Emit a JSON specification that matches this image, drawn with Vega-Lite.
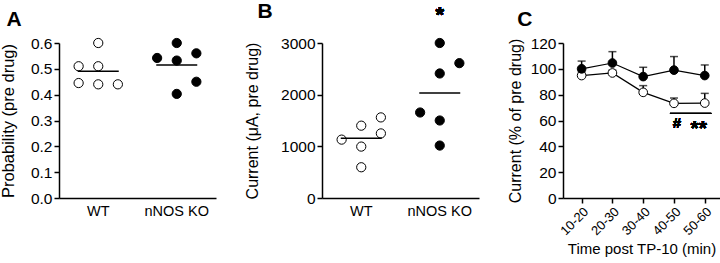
{
  "$schema": "https://vega.github.io/schema/vega-lite/v6.json",
  "padding": {"left": 0, "top": 1, "right": 0, "bottom": 0},
  "spacing": 28,
  "config": {
    "font": "Liberation Sans",
    "view": {"stroke": null},
    "axis": {
      "domainColor": "black", "tickColor": "black", "labelColor": "black", "titleColor": "black",
      "labelFont": "Liberation Sans", "titleFont": "Liberation Sans",
      "labelFontSize": 15, "titleFontSize": 16, "titleFontWeight": "normal",
      "domainWidth": 1.5, "tickWidth": 1.5, "tickSize": 5, "grid": false, "labelPadding": 2, "labelOverlap": false
    },
    "title": {"fontSize": 21, "fontWeight": "bold", "anchor": "start", "frame": "bounds", "color": "black", "font": "Liberation Sans"}
  },
  "hconcat": [
    {
      "width": 157, "height": 155,
      "title": {"text": "A", "offset": 6, "dx": 6},
      "data": {"values": [
        {"group": "WT", "lane": "C", "value": 0.60},
        {"group": "WT", "lane": "L", "value": 0.51},
        {"group": "WT", "lane": "C", "value": 0.51},
        {"group": "WT", "lane": "L", "value": 0.445},
        {"group": "WT", "lane": "C", "value": 0.44},
        {"group": "WT", "lane": "R", "value": 0.44},
        {"group": "nNOS KO", "lane": "C", "value": 0.60},
        {"group": "nNOS KO", "lane": "R", "value": 0.56},
        {"group": "nNOS KO", "lane": "L", "value": 0.542},
        {"group": "nNOS KO", "lane": "C", "value": 0.532},
        {"group": "nNOS KO", "lane": "R", "value": 0.45},
        {"group": "nNOS KO", "lane": "C", "value": 0.403}
      ]},
      "layer": [
        {
          "mark": {"type": "circle", "size": 85, "stroke": "black", "strokeWidth": 1, "opacity": 1},
          "encoding": {
            "x": {"field": "group", "type": "nominal", "sort": ["WT", "nNOS KO"],
                  "scale": {"paddingInner": 0, "paddingOuter": 0},
                  "axis": {"title": null, "labelAngle": 0, "ticks": false, "tickSize": 0, "labelPadding": 6, "labelFontSize": 14.5}},
            "xOffset": {"field": "lane", "type": "nominal", "sort": ["L", "C", "R"], "scale": {"paddingInner": 0, "paddingOuter": 3.4}},
            "y": {"field": "value", "type": "quantitative", "scale": {"domain": [0, 0.6], "nice": false},
                  "axis": {"title": "Probability (pre drug)", "titleFontSize": 16.5, "titlePadding": 14, "tickCount": 7, "format": ".1f", "labelFontSize": 15.5, "labelOverlap": false}},
            "fill": {"field": "group", "type": "nominal", "scale": {"domain": ["WT", "nNOS KO"], "range": ["white", "black"]}, "legend": null}
          }
        },
        {
          "mark": {"type": "tick", "orient": "horizontal", "size": 41, "thickness": 1.5, "color": "black"},
          "encoding": {
            "x": {"field": "group", "type": "nominal", "sort": ["WT", "nNOS KO"]},
            "y": {"aggregate": "mean", "field": "value", "type": "quantitative"}
          }
        }
      ]
    },
    {
      "width": 157, "height": 155,
      "title": {"text": "B", "offset": -18, "dx": 13},
      "data": {"values": [
        {"group": "WT", "lane": "R", "value": 1560},
        {"group": "WT", "lane": "C", "value": 1400},
        {"group": "WT", "lane": "R", "value": 1250},
        {"group": "WT", "lane": "L", "value": 1130},
        {"group": "WT", "lane": "C", "value": 995},
        {"group": "WT", "lane": "C", "value": 595},
        {"group": "nNOS KO", "lane": "C", "value": 3000},
        {"group": "nNOS KO", "lane": "R", "value": 2610},
        {"group": "nNOS KO", "lane": "C", "value": 2410},
        {"group": "nNOS KO", "lane": "L", "value": 1655},
        {"group": "nNOS KO", "lane": "C", "value": 1500},
        {"group": "nNOS KO", "lane": "C", "value": 1015}
      ]},
      "layer": [
        {
          "mark": {"type": "circle", "size": 85, "stroke": "black", "strokeWidth": 1, "opacity": 1},
          "encoding": {
            "x": {"field": "group", "type": "nominal", "sort": ["WT", "nNOS KO"],
                  "scale": {"paddingInner": 0, "paddingOuter": 0},
                  "axis": {"title": null, "labelAngle": 0, "ticks": false, "tickSize": 0, "labelPadding": 6, "labelFontSize": 14.5}},
            "xOffset": {"field": "lane", "type": "nominal", "sort": ["L", "C", "R"], "scale": {"paddingInner": 0, "paddingOuter": 3.4}},
            "y": {"field": "value", "type": "quantitative", "scale": {"domain": [0, 3000], "nice": false},
                  "axis": {"title": "Current (μA, pre drug)", "titlePadding": 20, "tickCount": 4, "format": "d", "labelFontSize": 15.5, "labelOverlap": false}},
            "fill": {"field": "group", "type": "nominal", "scale": {"domain": ["WT", "nNOS KO"], "range": ["white", "black"]}, "legend": null}
          }
        },
        {
          "mark": {"type": "tick", "orient": "horizontal", "size": 41, "thickness": 1.5, "color": "black"},
          "encoding": {
            "x": {"field": "group", "type": "nominal", "sort": ["WT", "nNOS KO"]},
            "y": {"aggregate": "mean", "field": "value", "type": "quantitative"}
          }
        },
        {
          "mark": {"type": "text", "text": "*", "fontSize": 22, "fontWeight": "bold", "baseline": "alphabetic", "align": "center", "color": "black"},
          "encoding": {
            "x": {"datum": "nNOS KO"},
            "y": {"datum": 3400}
          }
        }
      ]
    },
    {
      "width": 157, "height": 155,
      "title": {"text": "C", "offset": 6, "dx": 10},
      "data": {"values": [
        {"time": "10-20", "group": "WT", "mean": 94.8, "upper": 97.5},
        {"time": "20-30", "group": "WT", "mean": 96.8, "upper": 99.0},
        {"time": "30-40", "group": "WT", "mean": 81.8, "upper": 87.0},
        {"time": "40-50", "group": "WT", "mean": 73.3, "upper": 77.4},
        {"time": "50-60", "group": "WT", "mean": 73.5, "upper": 81.0},
        {"time": "10-20", "group": "nNOS KO", "mean": 100.0, "upper": 106.0},
        {"time": "20-30", "group": "nNOS KO", "mean": 104.5, "upper": 113.3},
        {"time": "30-40", "group": "nNOS KO", "mean": 94.0, "upper": 101.2},
        {"time": "40-50", "group": "nNOS KO", "mean": 99.0, "upper": 109.5},
        {"time": "50-60", "group": "nNOS KO", "mean": 94.8, "upper": 103.0}
      ]},
      "encoding": {
        "x": {"field": "time", "type": "ordinal", "scale": {"type": "point", "padding": 0.55, "align": 0.55},
              "axis": {"title": "Time post TP-10 (min)", "titleFontSize": 15, "titlePadding": 4, "labelAngle": -45, "labelFontSize": 13, "tickSize": 5}}
      },
      "layer": [
        {
          "mark": {"type": "rule", "color": "black", "strokeWidth": 1.5},
          "encoding": {
            "y": {"field": "mean", "type": "quantitative", "scale": {"domain": [0, 120], "nice": false},
                  "axis": {"title": "Current (% of pre drug)", "titlePadding": 7, "tickCount": 7, "labelFontSize": 15.5, "labelOverlap": false}},
            "y2": {"field": "upper"}
          }
        },
        {
          "mark": {"type": "tick", "orient": "horizontal", "size": 8, "thickness": 1.5, "color": "black"},
          "encoding": {"y": {"field": "upper", "type": "quantitative"}}
        },
        {
          "mark": {"type": "line", "color": "black", "strokeWidth": 1.2},
          "encoding": {
            "y": {"field": "mean", "type": "quantitative"},
            "detail": {"field": "group"}
          }
        },
        {
          "mark": {"type": "circle", "size": 75, "stroke": "black", "strokeWidth": 1, "opacity": 1},
          "encoding": {
            "y": {"field": "mean", "type": "quantitative"},
            "fill": {"field": "group", "type": "nominal", "scale": {"domain": ["WT", "nNOS KO"], "range": ["white", "black"]},
                     "legend": {"title": null, "orient": "none", "legendX": 72, "legendY": 113, "padding": 0,
                                "symbolType": "M-1,0L-0.56,0M0.56,0L1,0M0.56,0A0.56,0.56,0,1,1,-0.56,0A0.56,0.56,0,1,1,0.56,0",
                                "symbolSize": 289, "symbolStrokeColor": "black", "symbolStrokeWidth": 1, "symbolOpacity": 1,
                                "labelFontSize": 12.5, "labelFont": "Liberation Sans", "labelColor": "black", "labelOffset": 8, "rowPadding": 0}}
          }
        },
        {
          "mark": {"type": "rule", "color": "black", "strokeWidth": 1, "xOffset": -4, "x2Offset": 6.5},
          "encoding": {
            "x": {"datum": "40-50"},
            "x2": {"datum": "50-60"},
            "y": {"datum": 65.5}
          }
        },
        {
          "mark": {"type": "text", "text": "#", "fontSize": 15, "fontWeight": "bold", "align": "center", "baseline": "alphabetic", "dx": 3, "color": "black"},
          "encoding": {
            "x": {"datum": "40-50"},
            "y": {"datum": 54.5}
          }
        },
        {
          "mark": {"type": "text", "text": "**", "fontSize": 21, "fontWeight": "bold", "align": "center", "baseline": "alphabetic", "dx": -6, "color": "black"},
          "encoding": {
            "x": {"datum": "50-60"},
            "y": {"datum": 49}
          }
        }
      ]
    }
  ]
}
